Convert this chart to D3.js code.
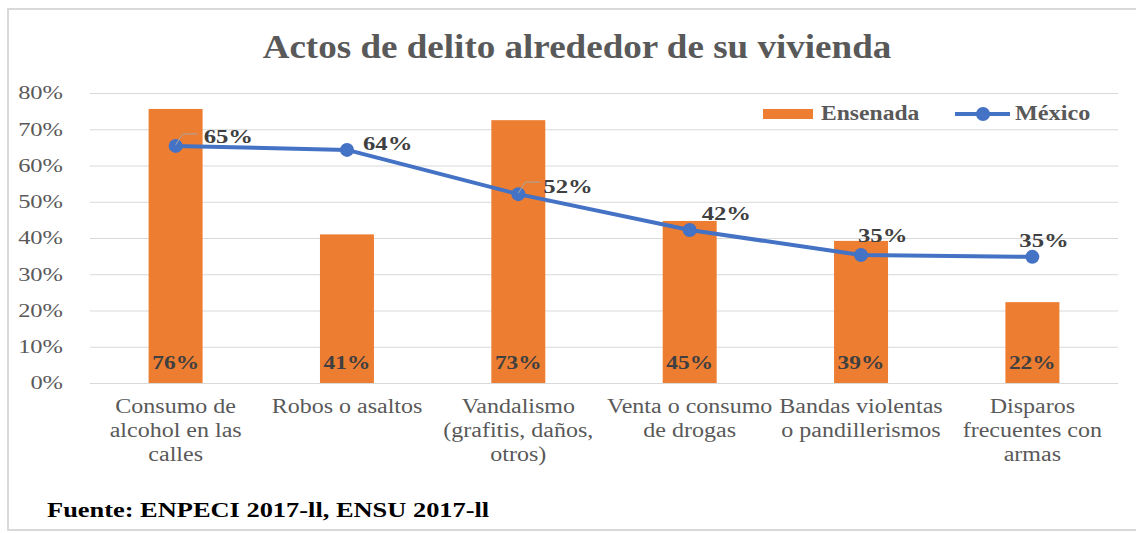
<!DOCTYPE html>
<html>
<head>
<meta charset="utf-8">
<script src="https://cdn.jsdelivr.net/npm/d3@7"></script>
<style>
  body { margin: 0; background: #fff; }
  svg { display: block; font-family: "Liberation Serif", "Times New Roman", serif; }
</style>
</head>
<body>
<svg id="chart" width="1136" height="533"></svg>
<script>
const categories = [
  ['Consumo de', 'alcohol en las', 'calles'],
  ['Robos o asaltos'],
  ['Vandalismo', '(grafitis, daños,', 'otros)'],
  ['Venta o consumo', 'de drogas'],
  ['Bandas violentas', 'o pandillerismos'],
  ['Disparos', 'frecuentes con', 'armas']
];
const ensenada = [0.756, 0.41, 0.725, 0.447, 0.392, 0.223];
const mexico = [0.654, 0.643, 0.521, 0.422, 0.353, 0.348];
const yTicks = [0, 0.1, 0.2, 0.3, 0.4, 0.5, 0.6, 0.7, 0.8];
const seriesNames = ['Ensenada', 'México'];

const orange = '#ED7D31',
  blue = '#4472C4',
  grid = '#d9d9d9',
  textGray = '#595959';

const pct = d3.format('.0%');

const svg = d3.select('#chart'),
  margin = { top: 93, right: 18, bottom: 150, left: 90 },
  width = +svg.attr('width'),
  height = +svg.attr('height');

// the source picture is stretched sideways, so widen glyphs to match
const stretch = (sel, k) =>
  sel.each(function () {
    const w = this.getComputedTextLength();
    d3.select(this).attr('textLength', w * k).attr('lengthAdjust', 'spacingAndGlyphs');
  });

// outer frame
svg.append('rect')
  .attr('x', 8).attr('y', 9)
  .attr('width', 1140).attr('height', 521)
  .attr('fill', 'none')
  .attr('stroke', grid)
  .attr('stroke-width', 2);

const keys = d3.range(categories.length);

const x = d3.scaleBand()
  .domain(keys)
  .range([margin.left, width - margin.right])
  .paddingInner(0.685)
  .paddingOuter(0.342);

const xc = d3.scalePoint()
  .domain(keys)
  .range([margin.left, width - margin.right])
  .padding(0.5);

const y = d3.scaleLinear()
  .domain([0, 0.8])
  .range([height - margin.bottom, margin.top]);

// gridlines + y labels
const yAxis = g => g
  .attr('transform', `translate(${margin.left},0)`)
  .call(d3.axisLeft(y).tickValues(yTicks).tickFormat(pct)
    .tickSize(-(width - margin.left - margin.right)).tickPadding(27))
  .call(g => g.select('.domain').remove())
  .call(g => g.selectAll('.tick line').attr('stroke', grid))
  .call(g => g.selectAll('.tick text')
    .attr('fill', textGray)
    .attr('font-size', 18)
    .attr('font-family', '"Liberation Serif", serif')
    .call(stretch, 1.36));

svg.append('g').call(yAxis);

// bars
svg.append('g')
  .selectAll('rect')
  .data(ensenada)
  .join('rect')
  .attr('x', (d, i) => x(i))
  .attr('y', d => y(d))
  .attr('width', x.bandwidth())
  .attr('height', d => y(0) - y(d))
  .attr('fill', orange);

svg.append('g')
  .selectAll('text')
  .data(ensenada)
  .join('text')
  .attr('x', (d, i) => xc(i))
  .attr('y', y(0) - 14)
  .attr('text-anchor', 'middle')
  .attr('font-size', 18)
  .attr('font-weight', 'bold')
  .attr('fill', '#404040')
  .text(d => pct(d))
  .call(stretch, 1.3);

// line
const line = d3.line()
  .x((d, i) => xc(i))
  .y(d => y(d));

svg.append('path')
  .datum(mexico)
  .attr('d', line)
  .attr('fill', 'none')
  .attr('stroke', blue)
  .attr('stroke-width', 4)
  .attr('stroke-linejoin', 'round');

svg.append('g')
  .selectAll('circle')
  .data(mexico)
  .join('circle')
  .attr('cx', (d, i) => xc(i))
  .attr('cy', d => y(d))
  .attr('r', 7)
  .attr('fill', blue);

// line labels (offsets from each point, as Excel placed them)
const labelOffsets = [[28, -3], [16, 0], [25, -1], [12, -10], [-3, -13], [-13, -10]];
const leaders = [0, 2];

svg.append('g')
  .selectAll('path')
  .data(leaders)
  .join('path')
  .attr('d', i => {
    const px = xc(i), py = y(mexico[i]);
    return `M${px},${py - 1}L${px + 7},${py - 12}H${px + 22}`;
  })
  .attr('fill', 'none')
  .attr('stroke', '#a6a6a6')
  .attr('stroke-width', 1);

svg.append('g')
  .selectAll('text')
  .data(mexico)
  .join('text')
  .attr('x', (d, i) => xc(i) + labelOffsets[i][0])
  .attr('y', (d, i) => y(d) + labelOffsets[i][1])
  .attr('font-size', 19)
  .attr('font-weight', 'bold')
  .attr('fill', '#404040')
  .text(d => pct(d))
  .call(stretch, 1.3);

// x category labels
svg.append('g')
  .selectAll('text')
  .data(categories)
  .join('text')
  .attr('text-anchor', 'middle')
  .attr('font-size', 20)
  .attr('fill', textGray)
  .attr('x', (d, i) => xc(i))
  .attr('y', y(0) + 30)
  .selectAll('tspan')
  .data(d => d)
  .join('tspan')
  .attr('x', function () { return this.parentNode.getAttribute('x'); })
  .attr('dy', (d, j) => j === 0 ? 0 : 24)
  .text(d => d)
  .call(stretch, 1.2);

// title
svg.append('text')
  .attr('x', 577)
  .attr('y', 58)
  .attr('text-anchor', 'middle')
  .attr('font-size', 34)
  .attr('font-weight', 'bold')
  .attr('fill', textGray)
  .text('Actos de delito alrededor de su vivienda')
  .call(stretch, 1.09);

// legend
const legend = svg.append('g')
  .attr('transform', 'translate(763,114)')
  .attr('font-size', 20)
  .attr('font-weight', 'bold')
  .attr('fill', textGray);

legend.append('rect')
  .attr('x', 0).attr('y', -5)
  .attr('width', 50).attr('height', 10)
  .attr('fill', orange);

legend.append('text')
  .attr('x', 58).attr('y', 6)
  .text(seriesNames[0])
  .call(stretch, 1.18);

legend.append('line')
  .attr('x1', 192).attr('x2', 247)
  .attr('y1', 0).attr('y2', 0)
  .attr('stroke', blue).attr('stroke-width', 4);

legend.append('circle')
  .attr('cx', 220).attr('cy', 0).attr('r', 7)
  .attr('fill', blue);

legend.append('text')
  .attr('x', 252).attr('y', 6)
  .text(seriesNames[1])
  .call(stretch, 1.21);

// source
svg.append('text')
  .attr('x', 47)
  .attr('y', 517)
  .attr('font-size', 22)
  .attr('font-weight', 'bold')
  .attr('fill', '#000')
  .text('Fuente: ENPECI 2017-ll, ENSU 2017-ll')
  .call(stretch, 1.2);
</script>
</body>
</html>
